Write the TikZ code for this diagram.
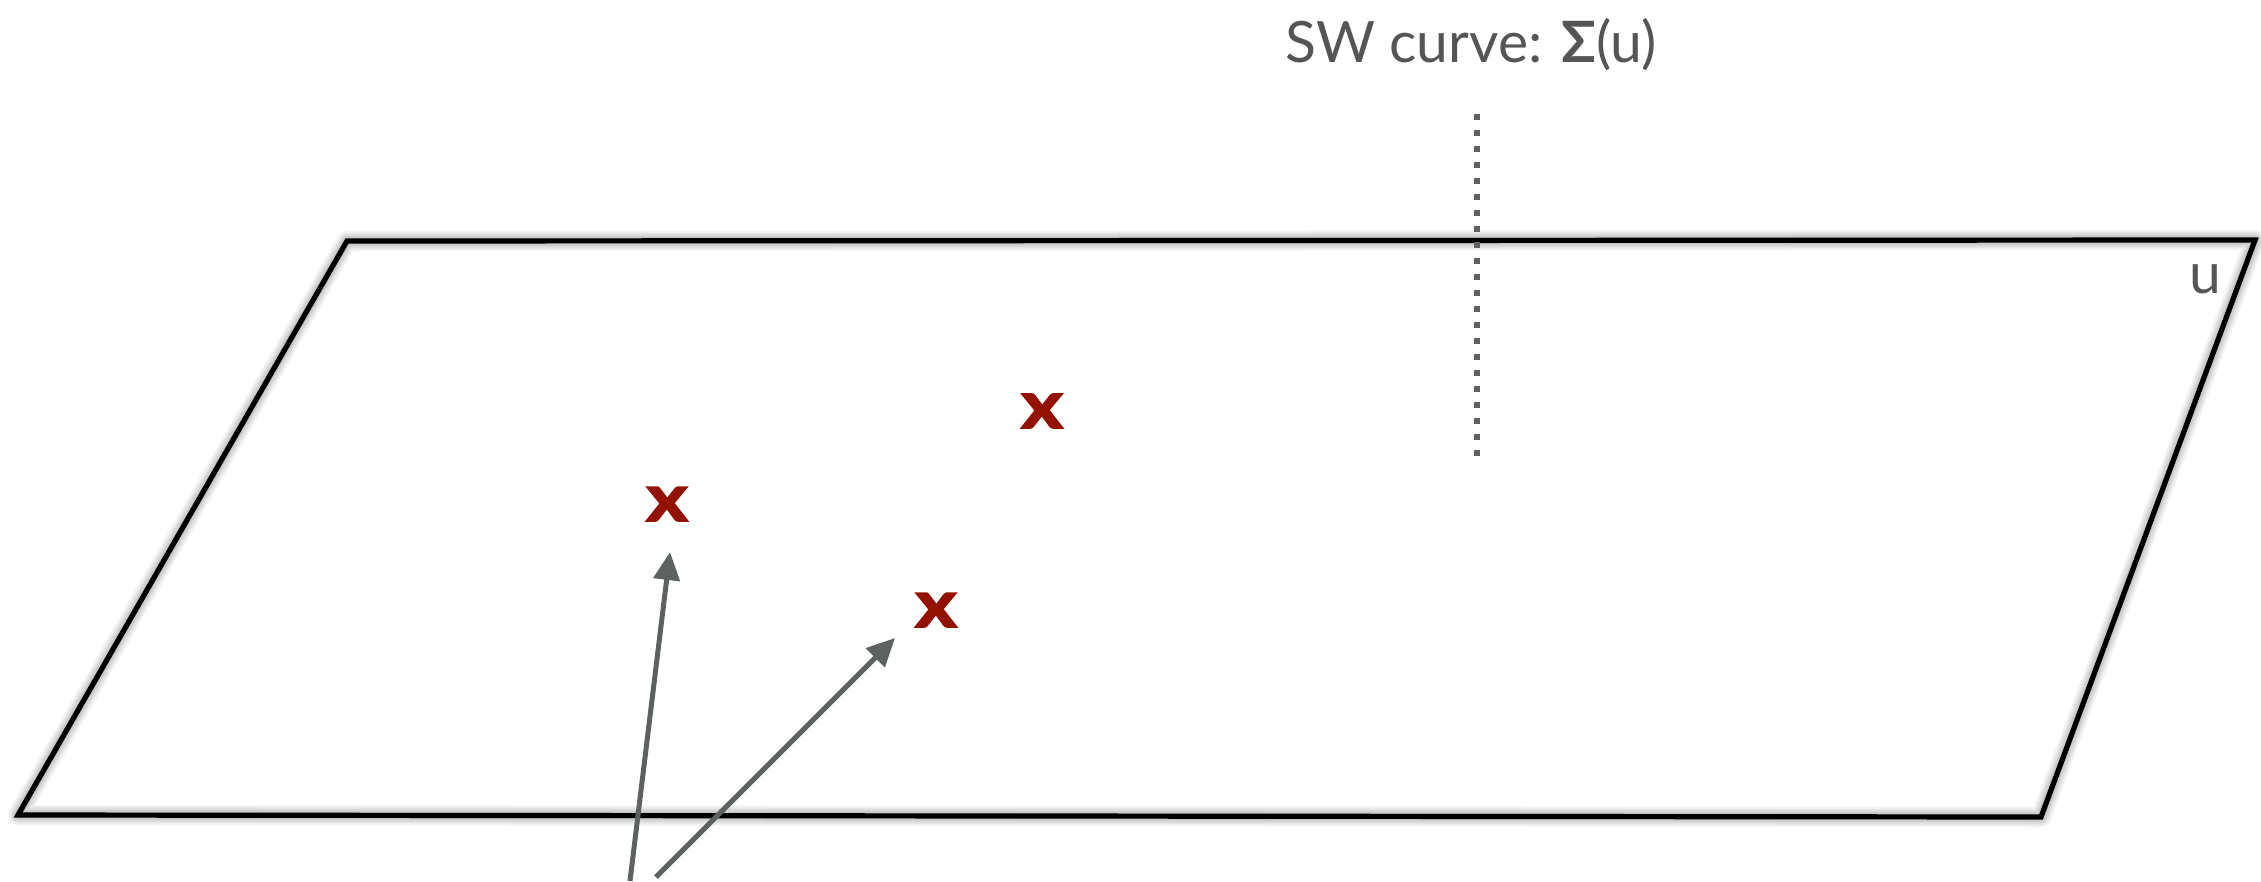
\documentclass[tikz,border=0pt]{standalone}
\usepackage{fontspec}
\setmainfont{Lato}
\newfontfamily\xfont{Lato}[FakeBold=2.5]
\usetikzlibrary{arrows.meta}
\definecolor{txtgray}{HTML}{555555}
\definecolor{dotgray}{HTML}{606060}
\definecolor{arrgray}{HTML}{5D6160}
\definecolor{xred}{HTML}{931100}
\tikzset{
  plane/.style={draw=black, line width=5.2pt, line join=miter},
  planeshadow/.style={draw=black, line join=round, draw opacity=0.05},
  sigline/.style={draw=dotgray, line width=6pt, dash pattern=on 6pt off 10pt},
  pointer/.style={draw=arrgray, line width=5pt, -{Triangle[length=28pt,width=26pt]}},
  branch/.style={text=xred, font=\fontsize{66}{66}\xfont\bfseries, inner sep=0pt, anchor=center},
  label/.style={text=txtgray, font=\fontsize{57}{57}\selectfont, inner sep=0pt},
}
\begin{document}
\begin{tikzpicture}[x=1pt, y=-1pt]
\useasboundingbox (0,0) rectangle (2261,881);
% corners of the plane
\coordinate (tl) at (347,241);
\coordinate (tr) at (2255,240);
\coordinate (br) at (2041,817);
\coordinate (bl) at (18,815);
% soft shadow
\foreach \w in {7,10,13,16,20}{
  \draw[planeshadow, line width=\w pt, yshift=-7pt] (tl) -- (tr) -- (br) -- (bl) -- cycle;
}
\draw[plane] (tl) -- (tr) -- (br) -- (bl) -- cycle;
% title and dotted fibre
\node[label, anchor=base west] (title) at (1285,62) {SW curve: {\bfseries Σ}(u)};
\coordinate (dtop) at (1477,114);
\coordinate (dbot) at (1477,456);
\draw[sigline] (dtop) -- (dbot);
% label u
\node[label, anchor=base] (ulabel) at (2205,293) {u};
% branch points
\node[branch] (x1) at (667,504) {\scalebox{1.2}[1]{x}};
\node[branch] (x2) at (936,610) {\scalebox{1.2}[1]{x}};
\node[branch] (x3) at (1042,411) {\scalebox{1.2}[1]{x}};
% arrows
\coordinate (a1s) at (630,881);
\coordinate (a1e) at (670,552);
\coordinate (a2s) at (656,877);
\coordinate (a2e) at (895,638);
\draw[pointer] (a1s) -- (a1e);
\draw[pointer] (a2s) -- (a2e);
\end{tikzpicture}
\end{document}
